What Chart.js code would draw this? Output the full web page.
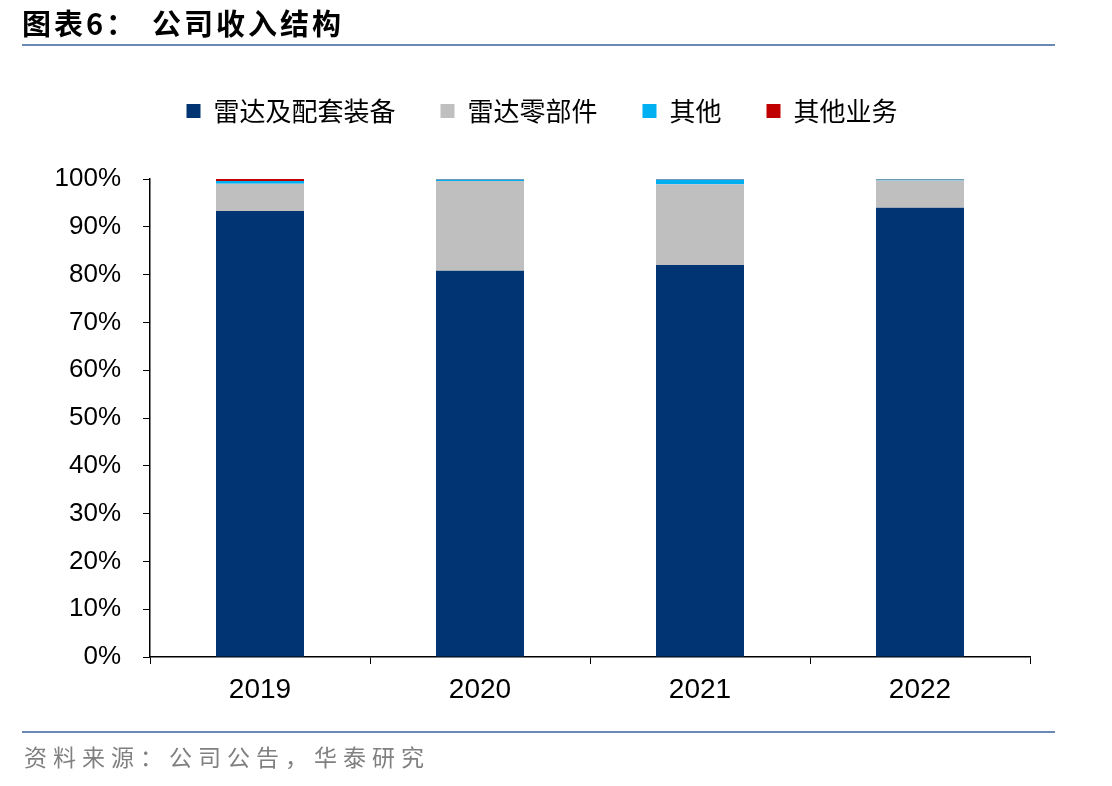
<!DOCTYPE html>
<html><head><meta charset="utf-8">
<script src="https://cdn.jsdelivr.net/npm/chart.js@4.4.1/dist/chart.umd.min.js"></script>
<style>
html,body{margin:0;padding:0;background:#fff;width:1112px;height:786px;overflow:hidden;}
.title{position:absolute;top:7px;font-family:"Noto Sans CJK SC";font-weight:bold;font-size:29px;line-height:30px;color:#000;white-space:pre;letter-spacing:3px;}
#topline{position:absolute;left:22px;top:44px;width:1033px;height:2px;background:#6a8ab5;}
#botline{position:absolute;left:22px;top:731px;width:1033px;height:2px;background:#6a8ab5;}
#source{position:absolute;left:24px;top:743px;font-family:"Noto Sans CJK SC";font-size:23px;line-height:26px;color:#808080;letter-spacing:6px;white-space:pre;}
#wrap{position:absolute;left:0;top:0;width:1112px;height:786px;}
</style></head>
<body>
<div id="wrap"><canvas id="c" width="1112" height="786"></canvas></div>
<div class="title" style="left:22px">图表6：</div>
<div class="title" style="left:152px">公司收入结构</div>
<div id="topline"></div>
<div id="botline"></div>
<div id="source">资料来源：公司公告，华泰研究</div>
<script>
const categories = ['2019','2020','2021','2022'];
const radarEquipment = [93.3, 80.8, 82.0, 94.0];
const radarParts = [5.7, 18.8, 16.9, 5.7];
const others = [0.6, 0.3, 1.0, 0.2];
const otherBusiness = [0.4, 0.1, 0.1, 0.1];
const seriesNames = ['雷达及配套装备','雷达零部件','其他','其他业务'];
const colors = ['#003473','#BFBFBF','#00B0F0','#C00000'];
const yTicks = [0,10,20,30,40,50,60,70,80,90,100];

const legendSpacer = {
  id: 'legendSpacer',
  beforeLayout(chart) {
    const lg = chart.legend;
    if (lg && !lg._wrapped) {
      const orig = lg.fit.bind(lg);
      lg.fit = function () { orig(); this.height = 126; };
      lg._wrapped = true;
    }
  }
};

const dataSets = [radarEquipment, radarParts, others, otherBusiness];
new Chart(document.getElementById('c'), {
  type: 'bar',
  data: {
    labels: categories,
    datasets: dataSets.map((d,i)=>({
      label: seriesNames[i], data: d, backgroundColor: colors[i],
      borderWidth: 0, categoryPercentage: 1, barPercentage: 0.4
    }))
  },
  plugins: [legendSpacer],
  options: {
    responsive: false, animation: false,
    layout: {padding: {left: 54, right: 82, top: 53, bottom: 0}},
    plugins: {
      legend: {
        display: true, position: 'top',
        labels: {
          font: {family: '"Noto Sans CJK SC"', size: 26}, color: '#000',
          boxWidth: 14, boxHeight: 14, padding: 45
        }
      },
      tooltip: {enabled: false}
    },
    scales: {
      x: {
        stacked: true,
        grid: {display: true, drawOnChartArea: false, offset: true, color: '#000', tickLength: 7, tickColor:'#000'},
        border: {display: true, color: '#000', width: 1.5},
        ticks: {font: {family: '"Liberation Sans", Arial', size: 28}, color: '#000', padding: 9},
        afterFit: s => { s.height = 786 - 657; }
      },
      y: {
        stacked: true, min: 0, max: 100,
        afterBuildTicks: s => { s.ticks = yTicks.map(v=>({value:v})); },
        grid: {display: true, drawOnChartArea: false, color: '#000', tickLength: 7, tickColor:'#000'},
        border: {display: true, color: '#000', width: 1.5},
        ticks: {font: {family: '"Liberation Sans", Arial', size: 26}, color: '#000', padding: 22,
          callback: v => v + '%'},
        afterFit: s => { s.width = 96; }
      }
    }
  }
});
</script>
</body></html>
